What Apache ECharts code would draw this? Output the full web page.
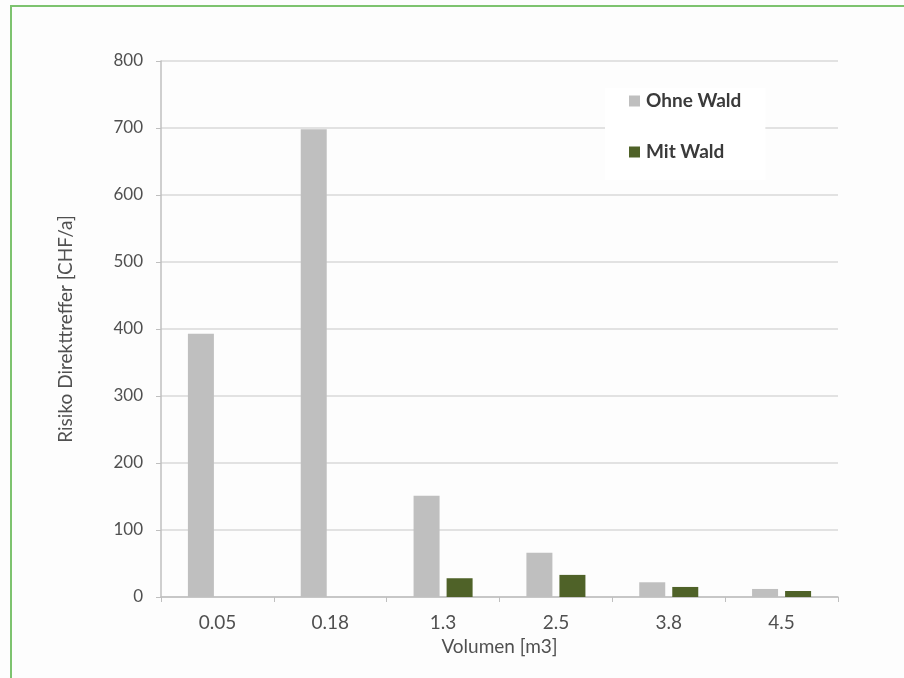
<!DOCTYPE html>
<html>
<head>
<meta charset="utf-8">
<script src="https://cdn.jsdelivr.net/npm/echarts@6/dist/echarts.min.js"></script>
<style>
  html, body { margin: 0; padding: 0; background: #fdfdfd; }
  #chart { width: 904px; height: 678px; }
</style>
</head>
<body>
<div id="chart"></div>
<script>
// Volume classes (m3)
const categories = ['0.05', '0.18', '1.3', '2.5', '3.8', '4.5'];
// Risk of direct hits in CHF per year
const ohneWald = [393, 698, 151, 66, 22, 12];
const mitWald = [0, 0, 28, 33, 15, 9];
const yTicks = { min: 0, max: 800, interval: 100 };

const FONT = 'Lato, "Open Sans", sans-serif';
const chart = echarts.init(document.getElementById('chart'), null, { renderer: 'canvas' });

chart.setOption({
  backgroundColor: '#fdfdfd',
  animation: false,
  graphic: [
    { type: 'rect', left: 10, top: 5, shape: { width: 894, height: 2 }, style: { fill: '#7dc36f' } },
    { type: 'rect', left: 10, top: 5, shape: { width: 2, height: 673 }, style: { fill: '#7dc36f' } }
  ],
  grid: { left: 161, right: 66, top: 61, bottom: 81 },
  legend: {
    orient: 'vertical',
    left: 605,
    top: 88,
    padding: [3, 24, 18, 24],
    backgroundColor: '#ffffff',
    itemWidth: 11,
    itemHeight: 11,
    itemGap: 31,
    icon: 'rect',
    textStyle: { fontFamily: FONT, fontSize: 19, lineHeight: 20, fontWeight: 'bold', color: '#3a3a3a', padding: [0, 0, 0, 1] },
    data: ['Ohne Wald', 'Mit Wald']
  },
  xAxis: {
    type: 'category',
    data: categories,
    name: 'Volumen [m3]',
    nameLocation: 'middle',
    nameGap: 40,
    nameTextStyle: { fontFamily: FONT, fontSize: 19, color: '#505050' },
    axisLine: { lineStyle: { color: '#bfbfbf', width: 1.5 } },
    axisTick: { show: true, length: 5, lineStyle: { color: '#bfbfbf' } },
    axisLabel: { fontFamily: FONT, fontSize: 19, color: '#505050', margin: 16 }
  },
  yAxis: {
    type: 'value',
    min: yTicks.min,
    max: yTicks.max,
    interval: yTicks.interval,
    name: 'Risiko Direkttreffer [CHF/a]',
    nameLocation: 'middle',
    nameGap: 86,
    nameTextStyle: { fontFamily: FONT, fontSize: 19, color: '#505050' },
    axisLine: { show: true, lineStyle: { color: '#bfbfbf', width: 1.5 } },
    axisTick: { show: true, inside: false, length: 5, lineStyle: { color: '#bfbfbf' } },
    axisLabel: { fontFamily: FONT, fontSize: 17, color: '#505050', margin: 18 },
    splitLine: { lineStyle: { color: '#d9d9d9', width: 1.5 } }
  },
  series: [
    {
      name: 'Ohne Wald',
      type: 'bar',
      data: ohneWald,
      barWidth: 26,
      barGap: '27%',
      itemStyle: { color: '#bfbfbf' }
    },
    {
      name: 'Mit Wald',
      type: 'bar',
      data: mitWald,
      barWidth: 26,
      barGap: '27%',
      itemStyle: { color: '#4f6228' }
    }
  ]
});
</script>
</body>
</html>
